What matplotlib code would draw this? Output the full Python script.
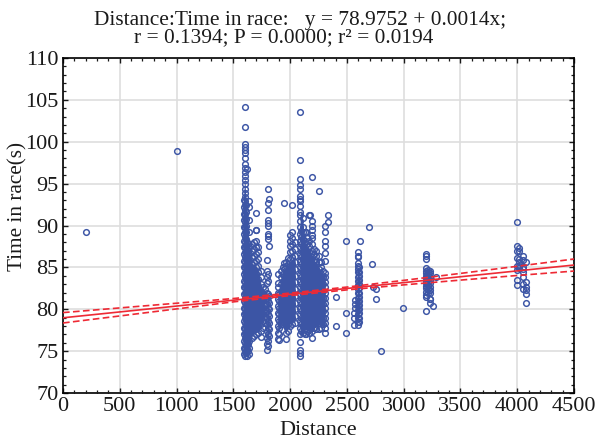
"""
Scatter of race time against distance, with regression line and 95% bands.
Dense columns are read off the picture as rows of rings. Where the rings pile
up into a solid mass, that mass is drawn as a filled outline under them.
"""

import matplotlib
matplotlib.use("Agg")
import matplotlib.pyplot as plt
from matplotlib.ticker import MultipleLocator

plt.rcParams["font.family"] = ["Liberation Serif", "DejaVu Serif"]

RING = "#3c55a5"
RED = "#ee2a35"
GRID = "#dedede"
INK = "#1a1a1a"

TITLE_1 = "Distance:Time in race:   y = 78.9752 + 0.0014x;"
TITLE_2 = "r = 0.1394; P = 0.0000; r² = 0.0194"

# ── Dense columns: one distance, many times ───────────────────────────────────
COL_DIST = [
    1590, 1600, 1610, 1620, 1630, 1640, 1660, 1680, 1700, 1720, 1740, 1760, 1780,
    1795, 1805, 1815, 1890, 1905, 1920, 1935, 1950, 1965, 1980, 2000, 2020, 2040,
    2090, 2100, 2110, 2130, 2150, 2170, 2190, 2210, 2230, 2250, 2270, 2290,
    2305, 2595, 2605, 3200, 3215, 3230,
]
COL_TIME = [
    [74.6, 75.4, 76.2, 77.0, 77.8, 78.6, 79.4, 80.2, 81.0, 81.8, 82.6, 83.4, 84.2, 85.0, 85.8, 86.6, 87.4, 88.2, 89.0, 89.8, 90.6, 91.4, 92.2, 93.0],
    [74.4, 74.9, 75.4, 76.0, 76.6, 77.2, 77.8, 78.4, 79.0, 79.6, 80.2, 80.8, 81.4, 82.0, 82.6, 83.2, 83.8, 84.4, 85.0, 85.6, 86.2, 86.8, 87.4, 88.0, 88.6, 89.2, 89.8, 90.4, 90.9, 91.4, 91.9, 92.4, 92.9, 93.4, 93.9, 94.4, 94.9, 95.4, 95.9, 96.4, 96.9, 97.3, 98.1, 98.6, 99.0, 99.4, 99.7, 101.8, 104.1],
    [74.8, 75.6, 76.4, 77.2, 78.0, 78.8, 79.6, 80.4, 81.2, 82.0, 82.8, 83.6, 84.4, 85.2, 86.0, 86.8, 87.6, 88.4, 89.2, 90.0, 90.8, 91.6, 92.4],
    [74.4, 75.2, 76.0, 76.8, 77.6, 78.4, 79.2, 80.0, 80.8, 81.6, 82.4, 83.2, 84.0, 84.8, 85.6, 86.4, 87.2, 88.0, 96.7],
    [75.0, 75.8, 76.6, 77.4, 78.2, 79.0, 79.8, 80.6, 81.4, 82.2, 83.0, 83.8, 84.6, 85.4, 86.2, 87.0, 87.8],
    [74.6, 75.4, 76.2, 77.0, 77.8, 78.6, 79.4, 80.2, 81.0, 81.8, 82.6, 83.4, 84.2, 85.0, 85.8, 86.6, 87.4, 89.2, 90.7, 92.2, 92.9],
    [76.6, 77.4, 78.2, 79.0, 79.8, 80.6, 81.4, 82.2, 83.0, 83.8, 84.6, 85.4, 86.2, 87.0, 87.8],
    [76.8, 77.6, 78.4, 79.2, 80.0, 80.8, 81.6, 82.4, 83.2, 84.0, 84.8, 85.6, 86.4, 87.2, 88.0],
    [77.0, 77.8, 78.6, 79.4, 80.2, 81.0, 81.8, 82.6, 83.4, 84.2, 85.0, 85.8, 86.6, 87.4, 88.2, 89.5, 91.5],
    [77.2, 78.0, 78.8, 79.6, 80.4, 81.2, 82.0, 82.8, 83.6, 84.4, 85.2, 86.0, 86.8, 87.4],
    [76.7, 77.4, 78.2, 79.0, 79.8, 80.6, 81.4, 82.2, 83.0, 83.8, 84.6],
    [77.8, 78.6, 79.4, 80.2, 81.0, 81.8, 82.6],
    [78.4, 79.2, 80.0, 80.8, 81.6, 82.4],
    [75.1, 75.8, 76.6, 77.4, 78.2, 79.0, 79.8, 80.6, 81.4, 82.0, 83.1, 83.8, 84.6, 85.9],
    [75.6, 76.2, 77.0, 77.8, 78.6, 79.4, 80.2, 81.0, 81.8, 83.4, 84.2, 88.4, 88.7, 89.0, 90.0, 90.3, 90.7, 91.8, 92.7, 94.3],
    [76.8, 77.6, 78.4, 79.2, 80.0, 80.8, 81.6, 87.5, 93.2],
    [76.5, 77.2, 78.0, 78.8, 79.6, 80.4, 81.2, 81.9, 82.7, 83.1, 84.2],
    [76.3, 77.0, 77.8, 78.6, 79.4, 80.2, 81.0, 81.8],
    [78.2, 79.0, 79.8, 80.6, 81.4, 82.2, 83.0, 83.8, 84.6],
    [78.6, 79.4, 80.2, 81.0, 81.8, 82.6, 83.4, 84.2, 85.0],
    [78.4, 79.2, 80.0, 80.8, 81.6, 82.4, 83.2, 84.0, 84.8, 85.5, 92.7],
    [76.4, 77.2, 78.0, 78.8, 79.6, 80.4, 81.2, 82.0, 82.8, 83.6, 84.4, 85.2, 85.7],
    [77.4, 78.2, 79.0, 79.8, 80.6, 81.4, 82.2, 83.0, 83.8, 84.6, 85.4, 86.1],
    [78.0, 78.8, 79.6, 80.4, 81.2, 82.0, 82.8, 83.6, 84.4, 85.2, 86.0, 86.8, 87.6, 88.2, 88.9],
    [78.2, 79.0, 79.8, 80.6, 81.4, 82.2, 83.0, 83.8, 84.6, 85.4, 86.2, 87.0, 87.8, 88.5, 89.2, 92.4],
    [78.4, 79.2, 80.0, 80.8, 81.6, 82.4, 83.2, 84.0, 84.8, 85.6, 86.4, 87.2, 88.0],
    [74.4, 74.8, 75.1, 76.1, 77.0, 77.8, 78.6, 79.4, 80.2, 81.0, 81.8, 82.6, 83.4, 84.2, 85.0, 85.8, 86.6, 87.4, 88.2, 89.0, 89.8, 90.5, 91.2, 91.6, 92.3, 92.9, 93.2, 93.5, 94.3, 94.8, 95.5, 97.8, 103.5],
    [77.4, 78.2, 79.0, 79.8, 80.6, 81.4, 82.2, 83.0, 83.8, 84.6, 85.4, 86.2, 87.0, 87.8, 88.6, 89.4],
    [77.2, 78.0, 78.8, 79.6, 80.4, 81.2, 82.0, 82.8, 83.6, 84.4, 85.2, 86.0, 86.8, 87.6, 88.4, 89.2, 89.8, 90.9],
    [77.0, 77.8, 78.6, 79.4, 80.2, 81.0, 81.8, 82.6, 83.4, 84.2, 85.0, 85.8, 86.6, 87.4, 88.2, 89.2],
    [77.4, 78.2, 79.0, 79.8, 80.6, 81.4, 82.2, 83.0, 83.8, 84.6, 85.4, 86.2, 87.0, 87.8, 88.5],
    [77.2, 78.0, 78.8, 79.6, 80.4, 81.2, 82.0, 82.8, 83.6, 84.4, 85.2, 86.0, 86.8, 87.6, 88.1, 91.2],
    [76.6, 77.4, 78.2, 79.0, 79.8, 80.6, 81.4, 82.2, 83.0, 83.8, 84.6, 85.4, 86.2, 87.0, 87.8, 88.5, 88.9, 89.5, 90.0, 90.5, 95.8],
    [77.8, 78.6, 79.4, 80.2, 81.0, 81.8, 82.6, 83.4, 84.2, 85.0, 85.8, 86.6, 87.2],
    [77.6, 78.4, 79.2, 80.0, 80.8, 81.6, 82.4, 83.2, 84.0, 84.8, 85.6, 86.4, 87.0],
    [77.6, 78.4, 79.2, 80.0, 80.8, 81.6, 82.4, 83.2, 84.0, 84.8, 85.6, 86.4, 94.1],
    [77.8, 78.6, 79.4, 80.2, 81.0, 81.8, 82.6, 83.4, 84.2, 85.0, 85.7],
    [78.2, 79.0, 79.8, 80.6, 81.4, 82.2, 83.0, 83.8, 84.6],
    [77.2, 77.8, 78.4, 79.0, 79.6, 80.2, 80.8, 81.4, 82.0, 82.6, 83.2, 83.8, 84.3, 85.8, 86.7, 87.5, 88.1, 89.2, 89.9],
    [78.1, 78.5, 79.0, 79.4, 79.9, 80.4, 80.9, 81.4, 81.9, 82.4, 82.9, 83.4, 83.9, 84.4, 84.8, 85.2, 85.5, 86.2, 86.4, 86.8],
    [78.5, 79.0, 79.5, 80.0, 80.5, 81.0, 81.5, 82.0, 82.5, 83.0, 83.5, 84.0, 84.5, 85.0],
    [79.8, 81.5, 81.7, 82.1, 82.5, 82.8, 83.1, 83.4, 83.7, 84.0, 84.3, 84.6, 84.9, 86.0, 86.3, 86.6],
    [82.0, 82.4, 82.8, 83.2, 83.6, 84.0, 84.4, 84.7],
    [80.7, 81.2, 81.9, 82.3, 82.7, 83.1, 83.5, 83.9, 84.3, 84.6],
]

# ── Scattered rings read one by one ───────────────────────────────────────────
SPARSE_DIST = [
    200, 1000, 1697, 2140, 2140, 2175, 2334, 2334, 2401, 2401, 2492, 2492, 2492,
    2560, 2560, 2560, 2570, 2570, 2570, 2615, 2697, 2721, 2733, 2756, 2756,
    2800, 2994, 3232, 3258, 3285, 3995, 3995, 3995, 3995, 3995, 3995, 3995,
    3995, 4018, 4018, 4018, 4018, 4018, 4018, 4053, 4053, 4053, 4053, 4053,
    4053, 4053, 4053, 4077, 4077, 4077, 4077, 4077, 4077,
]
SPARSE_TIME = [
    89.2, 98.9, 89.5, 77.1, 89.2, 91.2, 91.2, 90.4, 81.5, 78.0, 88.2, 79.5, 77.2,
    78.1, 79.0, 79.6, 80.2, 80.6, 81.1, 88.2, 89.8, 85.4, 82.6, 82.4, 81.2,
    75.05, 80.1, 81.2, 80.4, 83.8, 90.4, 87.5, 86.9, 86.1, 85.2, 84.7, 83.5,
    82.9, 87.3, 87.0, 86.0, 85.6, 85.2, 84.9, 86.4, 85.9, 85.1, 84.5, 83.8,
    83.0, 82.4, 84.8, 85.7, 83.2, 82.7, 82.3, 81.8, 80.7,
]

# ── Solid masses where the rings overplot: distance, lower and upper edge ─────
MASS_A_DIST = [1585, 1600, 1615, 1640, 1660, 1700, 1730, 1750, 1775]
MASS_A_LOW = [74.8, 74.6, 74.6, 74.8, 77.0, 77.2, 77.4, 78.4, 79.2]
MASS_A_HIGH = [92.0, 96.0, 92.0, 87.0, 85.5, 85.0, 84.0, 82.5, 82.0]
MASS_B_DIST = [1795, 1815]
MASS_B_LOW = [75.6, 77.2]
MASS_B_HIGH = [82.0, 81.6]
MASS_C_DIST = [1890, 1925, 1960, 2000, 2045]
MASS_C_LOW = [77.0, 78.4, 77.0, 78.4, 78.6]
MASS_C_HIGH = [81.5, 84.0, 85.0, 85.5, 86.5]
MASS_D_DIST = [2088, 2100, 2130, 2190, 2230, 2270, 2310]
MASS_D_LOW = [76.6, 77.0, 77.6, 77.2, 78.0, 78.2, 77.8]
MASS_D_HIGH = [91.0, 92.0, 88.0, 86.5, 85.5, 84.5, 84.0]
MASS_E_DIST = [2590, 2610]
MASS_E_LOW = [78.8, 79.0]
MASS_E_HIGH = [85.0, 85.0]

# ── Regression line and confidence bands ──────────────────────────────────────
FIT_DIST = [0, 500, 1000, 1500, 2000, 2500, 3000, 3500, 4000, 4500]
FIT_TIME = [78.98, 79.68, 80.38, 81.08, 81.78, 82.48, 83.18, 83.88, 84.58, 85.28]
FIT_UPPER = [79.60, 80.16, 80.72, 81.28, 81.93, 82.65, 83.45, 84.28, 85.13, 86.00]
FIT_LOWER = [78.36, 79.20, 80.04, 80.88, 81.63, 82.31, 82.91, 83.48, 84.03, 84.56]


def plot(out_path: str = "out.png") -> None:
    fig = plt.figure(figsize=(5.96, 4.40), dpi=100)
    ax = fig.add_axes([63 / 596, 1 - 393 / 440, (574 - 63) / 596, (393 - 58) / 440])

    masses = [
        (MASS_A_DIST, MASS_A_LOW, MASS_A_HIGH),
        (MASS_B_DIST, MASS_B_LOW, MASS_B_HIGH),
        (MASS_C_DIST, MASS_C_LOW, MASS_C_HIGH),
        (MASS_D_DIST, MASS_D_LOW, MASS_D_HIGH),
        (MASS_E_DIST, MASS_E_LOW, MASS_E_HIGH),
    ]
    for dist, low, high in masses:
        ax.fill_between(dist, low, high, color=RING, lw=0, zorder=2)

    ring = dict(ls="none", marker="o", ms=4.1, mfc="none", mec=RING, mew=1.05, zorder=3)
    for dist, times in zip(COL_DIST, COL_TIME):
        ax.plot([dist] * len(times), times, **ring)
    ax.plot(SPARSE_DIST, SPARSE_TIME, **ring)

    ax.plot(FIT_DIST, FIT_TIME, color=RED, lw=1.2, zorder=4)
    ax.plot(FIT_DIST, FIT_UPPER, color=RED, lw=1.2, ls=(0, (4, 2)), zorder=4)
    ax.plot(FIT_DIST, FIT_LOWER, color=RED, lw=1.2, ls=(0, (4, 2)), zorder=4)

    ax.set_xlim(0, 4500)
    ax.set_ylim(70, 110)
    ax.xaxis.set_major_locator(MultipleLocator(500))
    ax.xaxis.set_minor_locator(MultipleLocator(100))
    ax.yaxis.set_major_locator(MultipleLocator(5))
    ax.yaxis.set_minor_locator(MultipleLocator(1))

    ax.grid(True, which="major", color=GRID, lw=1.2, zorder=0)
    ax.set_axisbelow(True)
    ax.tick_params(which="both", direction="in", top=True, right=True,
                   color=INK, labelcolor=INK)
    ax.tick_params(which="major", length=3.5, width=1.0, labelsize=16, pad=3)
    ax.tick_params(which="minor", length=2, width=0.9)
    for spine in ax.spines.values():
        spine.set_linewidth(1.2)
        spine.set_color("black")

    fig.text(300 / 596, 1 - 20 / 440, TITLE_1, ha="center", va="center", fontsize=15.4, color=INK)
    fig.text(284 / 596, 1 - 38 / 440, TITLE_2, ha="center", va="center", fontsize=15.4, color=INK)
    fig.text(318 / 596, 1 - 430 / 440, "Distance", ha="center", va="center", fontsize=16, color=INK)
    fig.text(18 / 596, 1 - 206 / 440, "Time in race(s)", ha="center", va="center",
             rotation=90, fontsize=15.3, color=INK)

    fig.savefig(out_path, dpi=100)


if __name__ == "__main__":
    plot()
